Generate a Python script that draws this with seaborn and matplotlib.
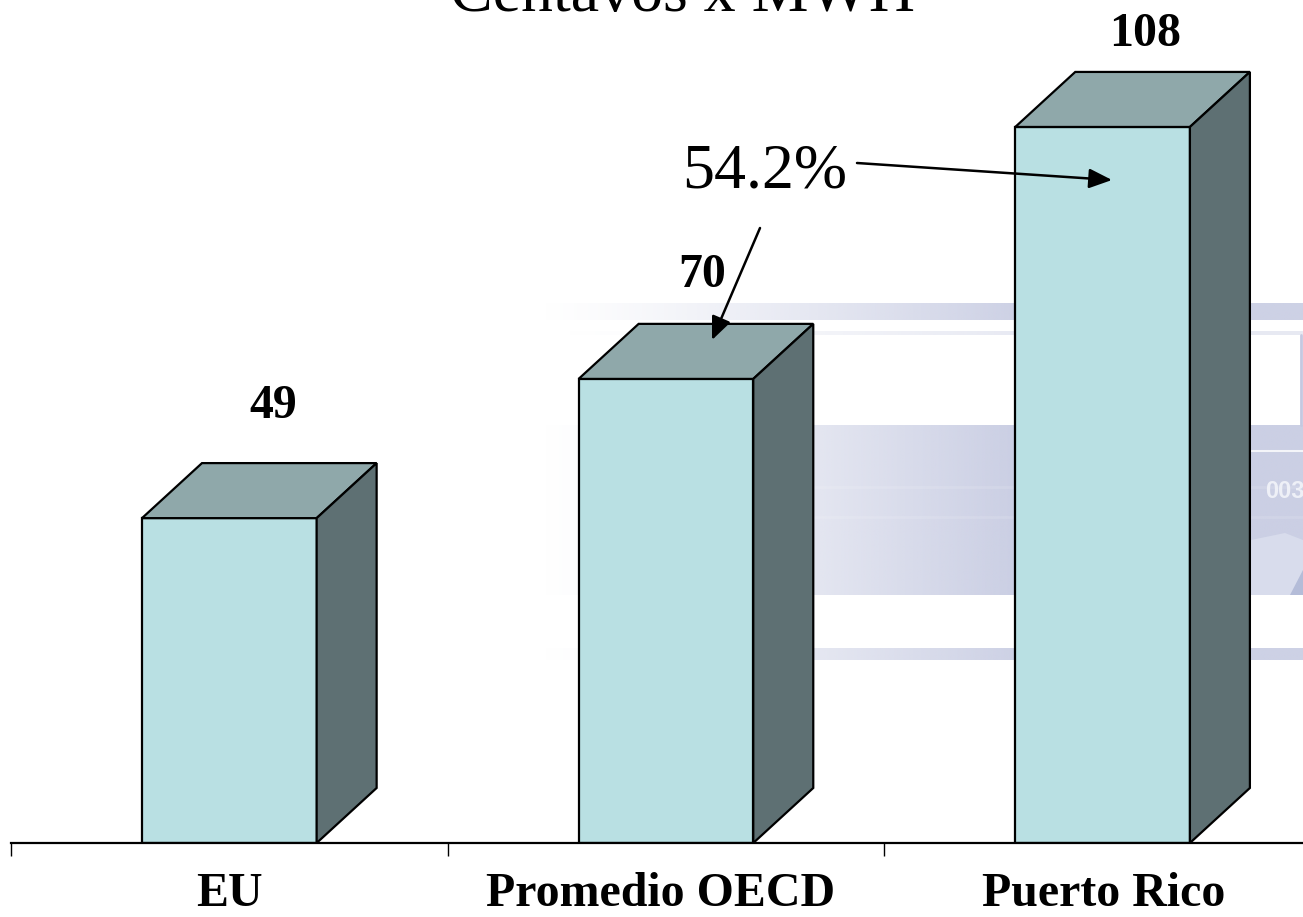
import numpy as np
import pandas as pd
import matplotlib
matplotlib.use("Agg")
import matplotlib.pyplot as plt
from matplotlib.patches import Polygon
import seaborn as sns

categories = ["EU", "Promedio OECD", "Puerto Rico"]
values = [49, 70, 108]
title = "Centavos x MWH"
pct_label = "54.2%"

front_color = "#b9e0e3"
top_color = "#8fa8aa"
side_color = "#5e7073"
band_color = np.array([203, 207, 228]) / 255

sns.set_theme(style="white")
plt.rcParams["font.family"] = ["Liberation Serif", "DejaVu Serif"]

W, H = 1303, 917
fig = plt.figure(figsize=(W / 100, H / 100), dpi=100)

# faded slide picture behind the chart, in pixel coordinates
bg = fig.add_axes([0, 0, 1, 1], zorder=0)
bg.axis("off")


def band(x0, x1, y0, y1, alpha=1.0):
    xs = np.linspace(0, 1, 300)
    img = np.ones((1, 300, 4))
    img[..., :3] = band_color
    img[0, :, 3] = np.clip(xs / 0.62, 0, 1) ** 1.2 * alpha
    bg.imshow(img, extent=[x0, x1, y1, y0], aspect="auto", interpolation="bilinear")


band(540, W, 303, 320, 0.95)
band(560, W, 331, 335, 0.45)
band(540, W, 425, 595, 1.0)
band(540, W, 648, 660, 0.95)
bg.set_xlim(0, W)
bg.set_ylim(H, 0)
bg.plot([1190, W], [451, 451], color="white", lw=1.5, alpha=0.8)
for yy in [487, 517]:
    bg.plot([560, W], [yy, yy], color="white", lw=2, alpha=0.12)
bg.plot([1301, 1301], [335, 425], color="#c4c8e0", lw=2)
bg.add_patch(Polygon([(1251, 540), (1285, 533), (1303, 540), (1303, 595), (1251, 595)],
                     closed=True, fc="#d8dcec", ec="none"))
bg.add_patch(Polygon([(1290, 595), (1303, 570), (1303, 595)], closed=True, fc="#b4bcd8", ec="none"))
bg.text(1265, 491, "003", color="#eef0f7", fontsize=17, fontweight="bold",
        family="Liberation Sans", va="center", ha="left")

# chart axes: left edge at 11px, baseline at 843px
ax = fig.add_axes([11 / W, (H - 843) / H, (W - 11) / W, 843 / H], zorder=1)
ax.patch.set_alpha(0)
df = pd.DataFrame({"Region": categories, "Valor": values})
sns.barplot(data=df, x="Region", y="Valor", color=front_color, saturation=1,
            width=0.4, edgecolor="black", linewidth=1.6, ax=ax)
ax.set_xlim(-0.5, 2.459)
ax.set_ylim(0, 127.15)

# fake 3D faces on each bar
dx, dy = 0.1374, 8.3
for bar, val in zip(list(ax.patches), values):
    x0 = bar.get_x()
    x1 = x0 + bar.get_width()
    ax.add_patch(Polygon([(x0, val), (x1, val), (x1 + dx, val + dy), (x0 + dx, val + dy)],
                         closed=True, fc=top_color, ec="black", lw=1.6, zorder=3, clip_on=False))
    ax.add_patch(Polygon([(x1, 0), (x1 + dx, dy), (x1 + dx, val + dy), (x1, val)],
                         closed=True, fc=side_color, ec="black", lw=1.6, zorder=3, clip_on=False))

for s in ["top", "right", "left"]:
    ax.spines[s].set_visible(False)
ax.spines["bottom"].set_color("black")
ax.spines["bottom"].set_linewidth(1.6)
ax.set_yticks([])
ax.set_xlabel("")
ax.set_ylabel("")
ax.set_xticks([-0.5, 0.5, 1.5])
ax.set_xticklabels([])
ax.tick_params(axis="x", length=9, width=1.0, color="black", bottom=True)

# category labels under the axis
label_x = [229, 661, 1104]
for px, name in zip(label_x, categories):
    fig.text(px / W, 1 - 906 / H, name, ha="center", va="baseline",
             fontsize=34.5, fontweight="bold", color="black", zorder=5)

# value labels above the bars
label_pos = [(273, 406), (702, 275), (1145, 34)]
for (px, py), val in zip(label_pos, values):
    fig.text(px / W, 1 - py / H, str(val), ha="center", va="center",
             fontsize=34.5, fontweight="bold", color="black", zorder=5)

fig.text(682 / W, 1 - 11 / H, title, ha="center", va="baseline", fontsize=46,
         color="black", zorder=5)
fig.text(765 / W, 1 - 172 / H, pct_label, ha="center", va="center", fontsize=46,
         color="black", zorder=5)

# arrows from the percentage label
over = fig.add_axes([0, 0, 1, 1], zorder=4)
over.set_xlim(0, W)
over.set_ylim(H, 0)
over.axis("off")
for start, end in [((857, 163), (1112, 180)), ((760, 228), (712, 340))]:
    over.annotate("", xy=end, xytext=start,
                  arrowprops=dict(arrowstyle="-|>,head_length=0.7,head_width=0.3", color="black",
                                  lw=1.8, shrinkA=0, shrinkB=0, mutation_scale=20))

fig.savefig("out.png", dpi=100)
